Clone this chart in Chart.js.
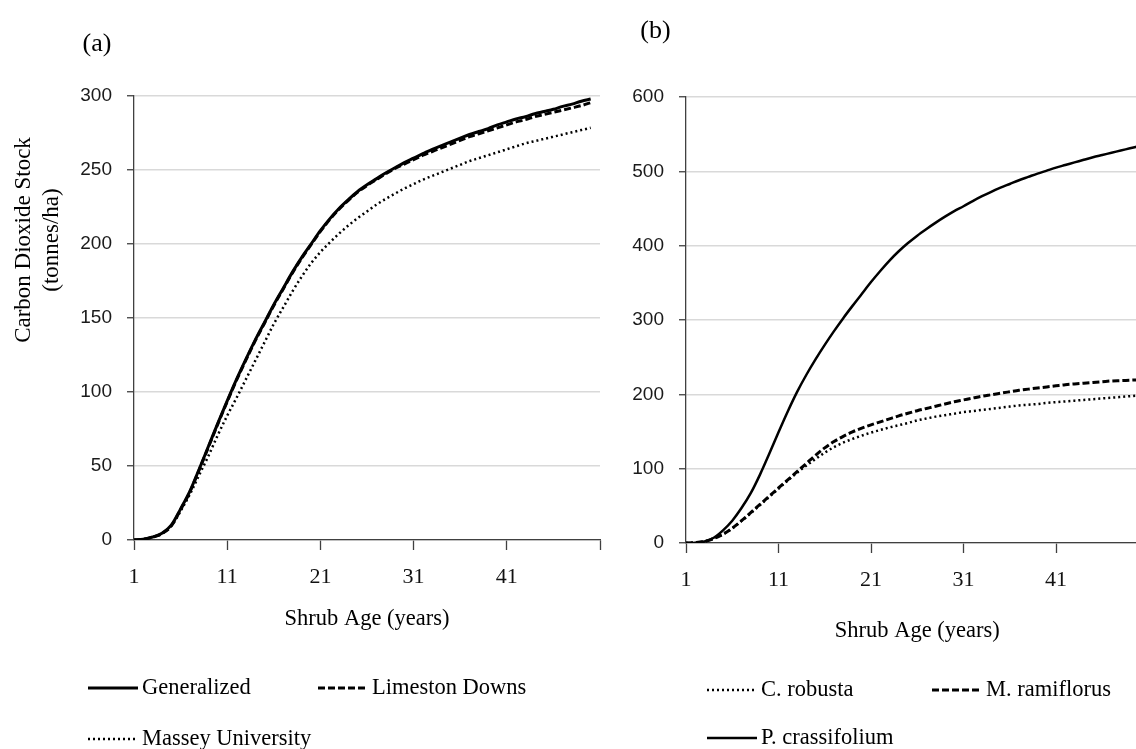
<!DOCTYPE html>
<html>
<head>
<meta charset="utf-8">
<title>Carbon Dioxide Stock by Shrub Age</title>
<script src="https://cdn.jsdelivr.net/npm/chart.js@4.4.0/dist/chart.umd.min.js"></script>
<style>
  html, body { margin: 0; padding: 0; background: #fff; overflow: hidden; }
  #wrap { position: relative; width: 1136px; height: 749px; overflow: hidden; }
  canvas { position: absolute; top: 0; }
  #chartA { left: 0; }
  #chartB { left: 610px; }
</style>
</head>
<body>
<div id="wrap">
  <canvas id="chartA" width="614" height="749"></canvas>
  <canvas id="chartB" width="590" height="749"></canvas>
</div>
<script>
// Shrub age in years
const years = [1, 2, 3, 4, 5, 6, 7, 8, 9, 10, 11, 12, 13, 14, 15, 16, 17, 18, 19, 20,
  21, 22, 23, 24, 25, 26, 27, 28, 29, 30, 31, 32, 33, 34, 35, 36, 37, 38, 39, 40,
  41, 42, 43, 44, 45, 46, 47, 48, 49, 50];

const xTicks = [1, 11, 21, 31, 41, 51];
const xTickLabels = ['1', '11', '21', '31', '41', ''];

// (a) site models, CO2 stock in tonnes/ha
const generalized = [0, 0.5, 2, 4.5, 10, 21, 33, 48, 63.5, 79, 94, 108.5, 122, 135, 147, 159, 170, 181, 191, 200,
  209, 217, 224, 230, 235.5, 240, 244, 248, 251.5, 255, 258, 261, 264, 266.5, 269, 271.5, 274, 276, 278, 280.5,
  282.5, 284.5, 286, 288, 289.5, 291, 293, 294.5, 296.5, 298];
const limestonDowns = [0, 0.5, 2, 4.3, 9.5, 20.5, 32.5, 47.5, 63, 78.5, 93.5, 108, 121.5, 134.5, 146.5, 158.5, 169.5, 180.5, 190.5, 199.5,
  208.5, 216.5, 223.5, 229.5, 235, 239.5, 243.5, 247.5, 251, 254, 257, 260, 262.5, 265, 267.5, 270, 272.5, 274.5, 276.5, 278.5,
  280.5, 282.5, 284, 286, 287.5, 289, 290.5, 292, 293.5, 295.5];
const masseyUniversity = [0, 0.5, 2, 4.3, 9.5, 19.5, 31, 44, 57, 71, 84, 96, 108.5, 121, 133.5, 146, 157, 168, 178, 187,
  194.5, 201, 207, 212.5, 217.5, 222, 226.5, 230.5, 234, 237.5, 240.5, 243.5, 246, 248.5, 251, 253.5, 256, 258, 260, 262,
  264, 266, 268, 269.5, 271, 272.5, 274, 275.5, 277, 278.5];

// (b) species models, CO2 stock in tonnes/ha
const cRobusta = [0, 0.5, 2, 6, 11.5, 19.5, 29.5, 40, 51, 62, 73, 84, 94.5, 104, 113, 121.5, 129, 135, 140, 144.5,
  148.5, 152, 155.5, 158.5, 161.5, 165, 167.5, 170, 172, 174, 176, 177.5, 179, 180.5, 182, 183.5, 185, 186, 187, 188.5,
  189.5, 190.5, 191.5, 192.5, 193.5, 194.5, 195.5, 196.5, 197.5, 198.5];
const mRamiflorus = [0, 0.5, 2, 6, 12, 20, 30, 41, 52, 63, 74, 85, 96, 107, 118, 128, 136.5, 143.5, 149.5, 154.5,
  159, 163, 167, 171, 174.5, 178, 181, 184, 187, 190, 192.5, 195, 197.5, 199.5, 201.5, 203.5, 205.5, 207, 208.5, 210,
  211.5, 213, 214, 215, 216, 217, 218, 218.5, 219, 219.5];
const pCrassifolium = [0, 0.5, 2, 7, 17, 30, 47, 67, 92, 120, 149, 177, 203, 226, 247, 266.5, 285, 302.5, 319, 335,
  351, 366, 380, 392.5, 403.5, 413.5, 422.5, 431, 439, 446.5, 453, 460, 466.5, 472.5, 478, 483, 488, 492.5, 497, 501,
  505, 508.5, 512, 515.5, 519, 522, 525, 528, 531, 534];

const SERIF = "'Liberation Serif', 'Times New Roman', serif";
const SANS = "'Liberation Sans', Arial, sans-serif";
const AXIS_GREY = '#404040';

const SOLID = [];
const DASHED = [7, 3];
const DOTTED = [2, 3];

function points(values) {
    return years.map((x, i) => ({ x: x, y: values[i] }));
}

function series(label, values, dash, width) {
    return {
        label: label,
        data: points(values),
        borderColor: '#000',
        borderWidth: width,
        borderDash: dash,
        borderCapStyle: 'butt',
        pointRadius: 0,
        fill: false,
        cubicInterpolationMode: 'monotone'
    };
}

// Panel letter, rotated y title and the two-row legend drawn on the canvas
function panelDecor(cfg) {
    return {
        id: 'panelDecor',
        afterDraw(chart) {
            const ctx = chart.ctx;
            ctx.save();
            ctx.fillStyle = '#000';
            ctx.textBaseline = 'middle';

            ctx.font = `26px ${SERIF}`;
            ctx.textAlign = 'center';
            ctx.fillText(cfg.letter, cfg.letterX, cfg.letterY);

            if (cfg.yTitle) {
                ctx.save();
                ctx.translate(cfg.yTitleX, cfg.yTitleY);
                ctx.rotate(-Math.PI / 2);
                ctx.font = `23px ${SERIF}`;
                cfg.yTitle.forEach((line, i) => ctx.fillText(line, 0, i * 28));
                ctx.restore();
            }

            ctx.font = `22.5px ${SERIF}`;
            ctx.textAlign = 'left';
            cfg.legend.forEach(item => {
                const ds = chart.data.datasets[item.dataset];
                ctx.strokeStyle = ds.borderColor;
                ctx.lineWidth = ds.borderWidth;
                ctx.setLineDash(ds.borderDash);
                ctx.beginPath();
                ctx.moveTo(item.x, item.y);
                ctx.lineTo(item.x + 50, item.y);
                ctx.stroke();
                ctx.setLineDash([]);
                ctx.fillText(ds.label, item.x + 54, item.y);
            });
            ctx.restore();
        }
    };
}

function buildOptions(yMax, yStep, yWidth, xHeight, padding) {
    return {
        responsive: false,
        animation: false,
        layout: { padding: padding },
        plugins: {
            legend: { display: false },
            tooltip: { enabled: false }
        },
        scales: {
            x: {
                type: 'linear',
                min: 1,
                max: 51,
                afterBuildTicks: scale => { scale.ticks = xTicks.map(v => ({ value: v })); },
                afterFit: scale => { scale.height = xHeight; },
                ticks: {
                    autoSkip: false,
                    maxRotation: 0,
                    padding: 14,
                    color: '#111',
                    font: { family: SERIF, size: 22, lineHeight: 1.2 },
                    callback: (value, index) => xTickLabels[index]
                },
                grid: { drawOnChartArea: false, drawTicks: true, tickLength: 10, tickColor: AXIS_GREY, tickWidth: 1.3 },
                border: { color: AXIS_GREY, width: 1.3 },
                title: {
                    display: true,
                    text: 'Shrub Age (years)',
                    color: '#000',
                    padding: 0,
                    font: { family: SERIF, size: 22.5, lineHeight: 1.2 }
                }
            },
            y: {
                min: 0,
                max: yMax,
                afterFit: scale => { scale.width = yWidth; },
                ticks: {
                    stepSize: yStep,
                    padding: 15,
                    color: '#1a1a1a',
                    font: { family: SANS, size: 19 }
                },
                grid: { color: '#d9d9d9', lineWidth: 1.5, tickLength: 7, tickColor: AXIS_GREY, tickWidth: 1.3 },
                border: { color: AXIS_GREY, width: 1.3 }
            }
        }
    };
}

new Chart(document.getElementById('chartA'), {
    type: 'line',
    data: {
        datasets: [
            series('Generalized', generalized, SOLID, 3),
            series('Limeston Downs', limestonDowns, DASHED, 3),
            series('Massey University', masseyUniversity, DOTTED, 2.5)
        ]
    },
    options: buildOptions(300, 50, 134, 93, { left: 0, top: 96, right: 4, bottom: 116 }),
    plugins: [panelDecor({
        letter: '(a)', letterX: 97, letterY: 44,
        yTitle: ['Carbon Dioxide Stock', '(tonnes/ha)'], yTitleX: 24, yTitleY: 240,
        legend: [
            { dataset: 0, x: 88, y: 688 },
            { dataset: 1, x: 318, y: 688 },
            { dataset: 2, x: 88, y: 739 }
        ]
    })]
});

new Chart(document.getElementById('chartB'), {
    type: 'line',
    data: {
        datasets: [
            series('P. crassifolium', pCrassifolium, SOLID, 2.5),
            series('M. ramiflorus', mRamiflorus, DASHED, 3),
            series('C. robusta', cRobusta, DOTTED, 2.5)
        ]
    },
    options: buildOptions(600, 100, 76, 102, { left: 0, top: 97, right: 51.5, bottom: 104 }),
    plugins: [panelDecor({
        letter: '(b)', letterX: 45.5, letterY: 31,
        legend: [
            { dataset: 2, x: 97, y: 690 },
            { dataset: 1, x: 322, y: 690 },
            { dataset: 0, x: 97, y: 738 }
        ]
    })]
});
</script>
</body>
</html>
